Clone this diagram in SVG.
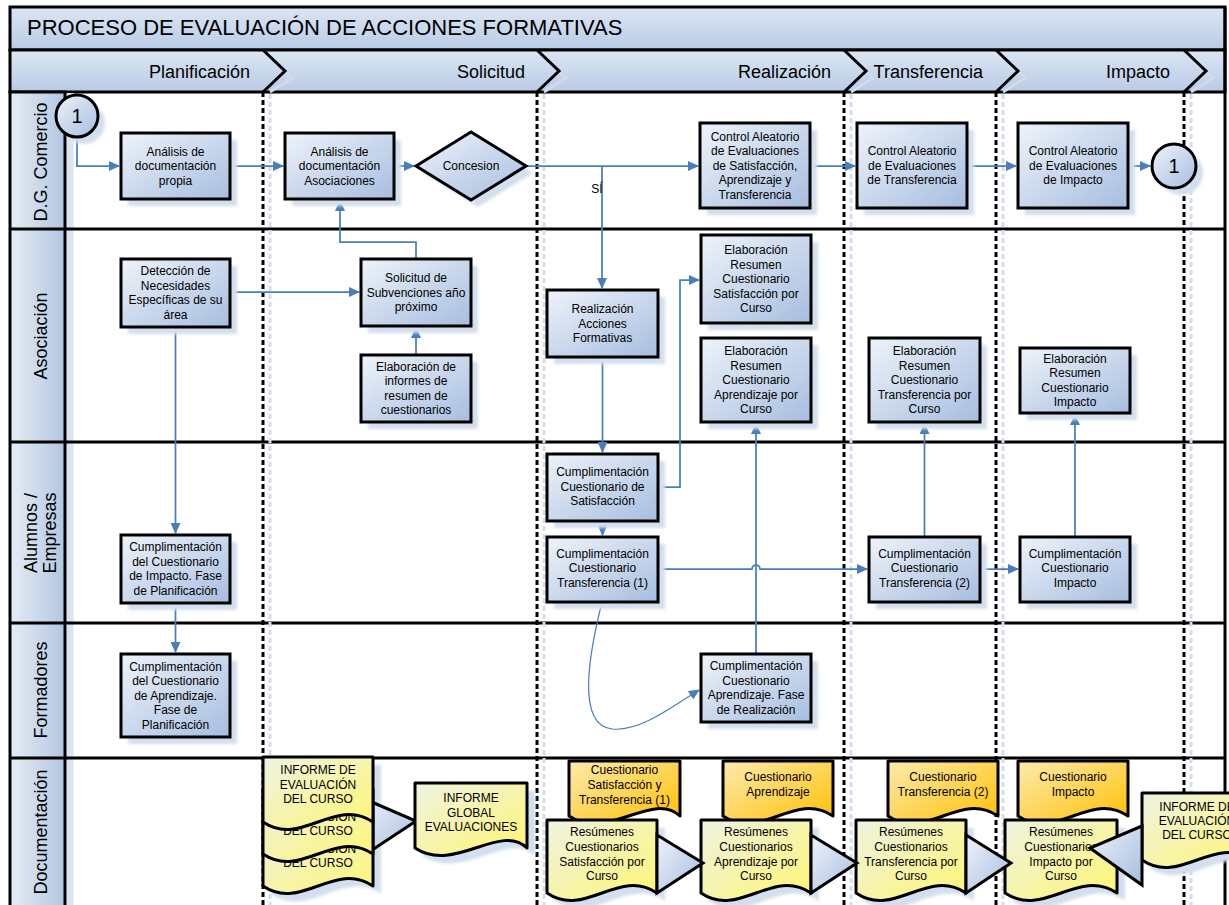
<svg xmlns="http://www.w3.org/2000/svg" width="1229" height="905" viewBox="0 0 1229 905">
<defs>
<linearGradient id="gBox" x1="0" y1="0" x2="1" y2="1"><stop offset="0" stop-color="#eef3fa"/><stop offset="1" stop-color="#a6bddf"/></linearGradient>
<linearGradient id="gHead" x1="0" y1="0" x2="0" y2="1"><stop offset="0" stop-color="#dce6f3"/><stop offset="1" stop-color="#b8cbe5"/></linearGradient>
<linearGradient id="gCol" x1="0" y1="0" x2="1" y2="0"><stop offset="0" stop-color="#e6edf6"/><stop offset="1" stop-color="#b2c6e1"/></linearGradient>
<linearGradient id="gYel" x1="0" y1="0" x2="1" y2="1"><stop offset="0" stop-color="#eef3e2"/><stop offset="1" stop-color="#fff573"/></linearGradient>
<linearGradient id="gOra" x1="0" y1="0" x2="1" y2="1"><stop offset="0" stop-color="#fdeab0"/><stop offset="1" stop-color="#ffc000"/></linearGradient>
<filter id="soft" x="-10%" y="-10%" width="120%" height="120%"><feGaussianBlur stdDeviation="1.5"/></filter>
<marker id="arr" markerWidth="11" markerHeight="10" refX="10" refY="5" orient="auto" markerUnits="userSpaceOnUse"><path d="M0,0 L11,5 L0,10 z" fill="#4a7ebb"/></marker>
<style>
.box{fill:url(#gBox);stroke:#000;stroke-width:3}
.sh{fill:#d3dfee;filter:url(#soft)}
.t{font-family:"Liberation Sans",Arial,sans-serif;font-size:12px;fill:#000;text-anchor:middle}
.lane{font-family:"Liberation Sans",Arial,sans-serif;font-size:18px;fill:#000;text-anchor:middle}
.ph{font-family:"Liberation Sans",Arial,sans-serif;font-size:18px;fill:#000;text-anchor:end}
.conn{fill:none;stroke:#4a7ebb;stroke-width:1.75}
.docY{fill:url(#gYel);stroke:#000;stroke-width:3;stroke-linejoin:round}
.docO{fill:url(#gOra);stroke:#000;stroke-width:3;stroke-linejoin:round}
.tri{fill:url(#gBox);stroke:#000;stroke-width:3;stroke-linejoin:miter}
.sep{stroke:#000;stroke-width:3;stroke-dasharray:5 3;fill:none}
.sepS{stroke:#d3deed;stroke-width:3;stroke-dasharray:5 3;fill:none}
.chev{fill:none;stroke:#000;stroke-width:3}
.chevS{fill:none;stroke:#cfdbec;stroke-width:3}
.ln{stroke:#000;stroke-width:3}
</style>
</defs>
<rect x="0" y="0" width="1229" height="905" fill="#fff"/>

<g id="frame">
<rect x="10" y="7" width="1215" height="43" fill="url(#gHead)" stroke="#000" stroke-width="3"/>
<text x="27" y="35" font-family="Liberation Sans, Arial, sans-serif" font-size="22" fill="#000">PROCESO DE EVALUACIÓN DE ACCIONES FORMATIVAS</text>
<rect x="10" y="50" width="1215" height="42" fill="url(#gHead)" stroke="#000" stroke-width="3"/>
<polyline class="chevS" points="270,57 292,78 270,92"/>
<polyline class="chevS" points="544,57 566,78 544,92"/>
<polyline class="chevS" points="851,57 873,78 851,92"/>
<polyline class="chevS" points="1003,57 1025,78 1003,92"/>
<polyline class="chevS" points="1191,57 1213,78 1191,92"/>
<polyline class="chev" points="263,50 285,71 263,92"/>
<polyline class="chev" points="537,50 559,71 537,92"/>
<polyline class="chev" points="844,50 866,71 844,92"/>
<polyline class="chev" points="996,50 1018,71 996,92"/>
<polyline class="chev" points="1184,50 1206,71 1184,92"/>
<text class="ph" x="250" y="78">Planificación</text>
<text class="ph" x="525" y="78">Solicitud</text>
<text class="ph" x="831" y="78">Realización</text>
<text class="ph" x="983" y="78">Transferencia</text>
<text class="ph" x="1170" y="78">Impacto</text>
<rect x="66.5" y="93" width="7" height="812" fill="#dbe5f1"/>
<rect x="10" y="92" width="55" height="820" fill="url(#gCol)" stroke="#000" stroke-width="3"/>
<line class="ln" x1="10" y1="229" x2="1225" y2="229"/>
<line class="ln" x1="10" y1="442" x2="1225" y2="442"/>
<line class="ln" x1="10" y1="623" x2="1225" y2="623"/>
<line class="ln" x1="10" y1="758" x2="1225" y2="758"/>
<line class="ln" x1="1225" y1="7" x2="1225" y2="905"/>
<text class="lane" transform="translate(47,162) rotate(-90)">D.G. Comercio</text>
<text class="lane" transform="translate(47,336) rotate(-90)">Asociación</text>
<text class="lane" transform="translate(37,533) rotate(-90)"><tspan x="0" y="0">Alumnos /</tspan><tspan x="0" y="18.5">Empresas</tspan></text>
<text class="lane" transform="translate(47,690) rotate(-90)">Formadores</text>
<text class="lane" transform="translate(47,832) rotate(-90)">Documentación</text>
<line class="sepS" x1="270" y1="94" x2="270" y2="905"/>
<line class="sepS" x1="544" y1="94" x2="544" y2="905"/>
<line class="sepS" x1="851" y1="94" x2="851" y2="905"/>
<line class="sepS" x1="1003" y1="94" x2="1003" y2="905"/>
<line class="sepS" x1="1191" y1="94" x2="1191" y2="905"/>
<line class="sep" x1="263" y1="92" x2="263" y2="905"/>
<line class="sep" x1="537" y1="92" x2="537" y2="905"/>
<line class="sep" x1="844" y1="92" x2="844" y2="905"/>
<line class="sep" x1="996" y1="92" x2="996" y2="905"/>
<line class="sep" x1="1184" y1="92" x2="1184" y2="905"/>
</g>

<g id="connectors">
<path class="conn" d="M77,138 V166 H119" marker-end="url(#arr)"/>
<path class="conn" d="M230,166 H283" marker-end="url(#arr)"/>
<path class="conn" d="M394,166 H414" marker-end="url(#arr)"/>
<path class="conn" d="M526,166 H698" marker-end="url(#arr)"/>
<path class="conn" d="M602,166 V288" marker-end="url(#arr)"/>
<path class="conn" d="M810,166 H855" marker-end="url(#arr)"/>
<path class="conn" d="M967,166 H1016" marker-end="url(#arr)"/>
<path class="conn" d="M1128,166 H1150" marker-end="url(#arr)"/>
<path class="conn" d="M230,292 H359" marker-end="url(#arr)"/>
<path class="conn" d="M416,355 V328" marker-end="url(#arr)"/>
<path class="conn" d="M416,259 V242 H340 V201" marker-end="url(#arr)"/>
<path class="conn" d="M175.5,327 V533" marker-end="url(#arr)"/>
<path class="conn" d="M175.5,603 V652" marker-end="url(#arr)"/>
<path class="conn" d="M602.5,357 V452" marker-end="url(#arr)"/>
<path class="conn" d="M658,487 H680 V280 H699" marker-end="url(#arr)"/>
<path class="conn" d="M602.5,521 V535" marker-end="url(#arr)"/>
<path class="conn" d="M658,569 H752 A4,4 0 0 1 760,569 H867" marker-end="url(#arr)"/>
<path class="conn" d="M756,654 V424" marker-end="url(#arr)"/>
<path class="conn" style="stroke-width:1.2" d="M602,602 C590,650 575,725 612,729 C640,732 675,705 699,690" marker-end="url(#arr)"/>
<path class="conn" d="M924.5,537 V424" marker-end="url(#arr)"/>
<path class="conn" d="M980,569 H1018" marker-end="url(#arr)"/>
<path class="conn" d="M1075,537 V415" marker-end="url(#arr)"/>
<text x="597" y="193" font-family="Liberation Sans, Arial, sans-serif" font-size="12" text-anchor="middle" fill="#000">SÍ</text>
</g>

<g id="n_start">
<circle class="sh" cx="84" cy="123" r="21"/>
<circle class="box" cx="77" cy="116" r="21"/>
<text class="t" x="77" y="123" style="font-size:20px">1</text>
</g>
<g id="n_analisis_propia">
<rect class="sh" x="128" y="140" width="109" height="66"/>
<rect class="box" x="121" y="133" width="109" height="66"/>
<text class="t"><tspan x="175.5" y="155.5">Análisis de</tspan><tspan x="175.5" y="170">documentación</tspan><tspan x="175.5" y="184.5">propia</tspan></text>
</g>
<g id="n_analisis_asoc">
<rect class="sh" x="292" y="140" width="109" height="66"/>
<rect class="box" x="285" y="133" width="109" height="66"/>
<text class="t"><tspan x="339.5" y="155.5">Análisis de</tspan><tspan x="339.5" y="170">documentación</tspan><tspan x="339.5" y="184.5">Asociaciones</tspan></text>
</g>
<g id="n_concesion">
<polygon class="sh" points="423,173 478,139 533,173 478,207"/>
<polygon class="box" points="416,166 471,132 526,166 471,200"/>
<text class="t" x="471" y="170">Concesion</text>
</g>
<g id="n_control_sat">
<rect class="sh" x="707" y="130" width="110" height="85"/>
<rect class="box" x="700" y="123" width="110" height="85"/>
<text class="t"><tspan x="755" y="140.5">Control Aleatorio</tspan><tspan x="755" y="155">de Evaluaciones</tspan><tspan x="755" y="169.5">de Satisfacción,</tspan><tspan x="755" y="184">Aprendizaje y</tspan><tspan x="755" y="198.5">Transferencia</tspan></text>
</g>
<g id="n_control_transf">
<rect class="sh" x="864" y="130" width="110" height="85"/>
<rect class="box" x="857" y="123" width="110" height="85"/>
<text class="t"><tspan x="912" y="155">Control Aleatorio</tspan><tspan x="912" y="169.5">de Evaluaciones</tspan><tspan x="912" y="184">de Transferencia</tspan></text>
</g>
<g id="n_control_imp">
<rect class="sh" x="1025" y="130" width="110" height="85"/>
<rect class="box" x="1018" y="123" width="110" height="85"/>
<text class="t"><tspan x="1073" y="155">Control Aleatorio</tspan><tspan x="1073" y="169.5">de Evaluaciones</tspan><tspan x="1073" y="184">de Impacto</tspan></text>
</g>
<g id="n_end">
<circle class="sh" cx="1181" cy="173" r="22"/>
<circle class="box" cx="1174" cy="166" r="22"/>
<text class="t" x="1174" y="173" style="font-size:20px">1</text>
</g>

<g id="n_deteccion">
<rect class="sh" x="128" y="266" width="109" height="68"/>
<rect class="box" x="121" y="259" width="109" height="68"/>
<text class="t"><tspan x="175.5" y="275">Detección de</tspan><tspan x="175.5" y="289.5">Necesidades</tspan><tspan x="175.5" y="304">Específicas de su</tspan><tspan x="175.5" y="318.5">área</tspan></text>
</g>
<g id="n_solicitud">
<rect class="sh" x="368" y="266" width="110" height="67"/>
<rect class="box" x="361" y="259" width="110" height="67"/>
<text class="t"><tspan x="416" y="282">Solicitud de</tspan><tspan x="416" y="296.5">Subvenciones año</tspan><tspan x="416" y="311">próximo</tspan></text>
</g>
<g id="n_elab_informes">
<rect class="sh" x="368" y="362" width="110" height="67"/>
<rect class="box" x="361" y="355" width="110" height="67"/>
<text class="t"><tspan x="416" y="370.5">Elaboración de</tspan><tspan x="416" y="385">informes de</tspan><tspan x="416" y="399.5">resumen de</tspan><tspan x="416" y="414">cuestionarios</tspan></text>
</g>
<g id="n_realizacion">
<rect class="sh" x="554" y="297" width="111" height="67"/>
<rect class="box" x="547" y="290" width="111" height="67"/>
<text class="t"><tspan x="602.5" y="313">Realización</tspan><tspan x="602.5" y="327.5">Acciones</tspan><tspan x="602.5" y="342">Formativas</tspan></text>
</g>
<g id="n_elab_sat">
<rect class="sh" x="708" y="242" width="110" height="88"/>
<rect class="box" x="701" y="235" width="110" height="88"/>
<text class="t"><tspan x="756" y="254">Elaboración</tspan><tspan x="756" y="268.5">Resumen</tspan><tspan x="756" y="283">Cuestionario</tspan><tspan x="756" y="297.5">Satisfacción por</tspan><tspan x="756" y="312">Curso</tspan></text>
</g>
<g id="n_elab_apr">
<rect class="sh" x="708" y="345" width="110" height="84"/>
<rect class="box" x="701" y="338" width="110" height="84"/>
<text class="t"><tspan x="756" y="355">Elaboración</tspan><tspan x="756" y="369.5">Resumen</tspan><tspan x="756" y="384">Cuestionario</tspan><tspan x="756" y="398.5">Aprendizaje por</tspan><tspan x="756" y="413">Curso</tspan></text>
</g>
<g id="n_elab_transf">
<rect class="sh" x="876" y="345" width="111" height="84"/>
<rect class="box" x="869" y="338" width="111" height="84"/>
<text class="t"><tspan x="924.5" y="355">Elaboración</tspan><tspan x="924.5" y="369.5">Resumen</tspan><tspan x="924.5" y="384">Cuestionario</tspan><tspan x="924.5" y="398.5">Transferencia por</tspan><tspan x="924.5" y="413">Curso</tspan></text>
</g>
<g id="n_elab_imp">
<rect class="sh" x="1027" y="355" width="110" height="65"/>
<rect class="box" x="1020" y="348" width="110" height="65"/>
<text class="t"><tspan x="1075" y="362.5">Elaboración</tspan><tspan x="1075" y="377">Resumen</tspan><tspan x="1075" y="391.5">Cuestionario</tspan><tspan x="1075" y="406">Impacto</tspan></text>
</g>

<g id="n_cumpl_imp_plan">
<rect class="sh" x="128" y="542" width="109" height="68"/>
<rect class="box" x="121" y="535" width="109" height="68"/>
<text class="t"><tspan x="175.5" y="551">Cumplimentación</tspan><tspan x="175.5" y="565.5">del Cuestionario</tspan><tspan x="175.5" y="580">de Impacto. Fase</tspan><tspan x="175.5" y="594.5">de Planificación</tspan></text>
</g>
<g id="n_cumpl_sat">
<rect class="sh" x="554" y="461" width="111" height="67"/>
<rect class="box" x="547" y="454" width="111" height="67"/>
<text class="t"><tspan x="602.5" y="476">Cumplimentación</tspan><tspan x="602.5" y="490.5">Cuestionario de</tspan><tspan x="602.5" y="505">Satisfacción</tspan></text>
</g>
<g id="n_cumpl_transf1">
<rect class="sh" x="554" y="544" width="111" height="65"/>
<rect class="box" x="547" y="537" width="111" height="65"/>
<text class="t"><tspan x="602.5" y="557.5">Cumplimentación</tspan><tspan x="602.5" y="572">Cuestionario</tspan><tspan x="602.5" y="586.5">Transferencia (1)</tspan></text>
</g>
<g id="n_cumpl_transf2">
<rect class="sh" x="876" y="544" width="111" height="65"/>
<rect class="box" x="869" y="537" width="111" height="65"/>
<text class="t"><tspan x="924.5" y="557.5">Cumplimentación</tspan><tspan x="924.5" y="572">Cuestionario</tspan><tspan x="924.5" y="586.5">Transferencia (2)</tspan></text>
</g>
<g id="n_cumpl_imp">
<rect class="sh" x="1027" y="544" width="110" height="65"/>
<rect class="box" x="1020" y="537" width="110" height="65"/>
<text class="t"><tspan x="1075" y="557.5">Cumplimentación</tspan><tspan x="1075" y="572">Cuestionario</tspan><tspan x="1075" y="586.5">Impacto</tspan></text>
</g>
<g id="n_cumpl_apr_plan">
<rect class="sh" x="128" y="661" width="109" height="83"/>
<rect class="box" x="121" y="654" width="109" height="83"/>
<text class="t"><tspan x="175.5" y="670.5">Cumplimentación</tspan><tspan x="175.5" y="685">del Cuestionario</tspan><tspan x="175.5" y="699.5">de Aprendizaje.</tspan><tspan x="175.5" y="714">Fase de</tspan><tspan x="175.5" y="728.5">Planificación</tspan></text>
</g>
<g id="n_cumpl_apr_real">
<rect class="sh" x="708" y="661" width="110" height="68"/>
<rect class="box" x="701" y="654" width="110" height="68"/>
<text class="t"><tspan x="756" y="670">Cumplimentación</tspan><tspan x="756" y="684.5">Cuestionario</tspan><tspan x="756" y="699">Aprendizaje. Fase</tspan><tspan x="756" y="713.5">de Realización</tspan></text>
</g>

<g id="d_informe_stack">
<path class="sh" d="M271,765 H381 V894 C342.5,868 309.5,920 271,894 Z"/>
<path class="tri" d="M360,797 L416,821 L360,858 Z"/>
<path class="docY" d="M263,821 H373 V886 C334.5,860 301.5,912 263,886 Z"/>
<text class="t"><tspan x="318" y="838">INFORME DE</tspan><tspan x="318" y="853">EVALUACIÓN</tspan><tspan x="318" y="867">DEL CURSO</tspan></text>
<path class="docY" d="M263,789 H373 V854 C334.5,828 301.5,880 263,854 Z"/>
<text class="t"><tspan x="318" y="806">INFORME DE</tspan><tspan x="318" y="821">EVALUACIÓN</tspan><tspan x="318" y="835">DEL CURSO</tspan></text>
<path class="docY" d="M263,757 H373 V822 C334.5,796 301.5,848 263,822 Z"/>
<text class="t"><tspan x="318" y="774">INFORME DE</tspan><tspan x="318" y="789">EVALUACIÓN</tspan><tspan x="318" y="803">DEL CURSO</tspan></text>
</g>
<g id="d_informe_global">
<path class="sh" d="M423,791 H535 V856 C507.8,830 462.2,882 423,856 Z"/>
<path class="docY" d="M415,783 H527 V848 C499.8,822 454.2,874 415,848 Z"/>
<text class="t"><tspan x="471" y="802">INFORME</tspan><tspan x="471" y="817">GLOBAL</tspan><tspan x="471" y="831">EVALUACIONES</tspan></text>
</g>
<g id="d_cuest_sat">
<path class="docO" d="M569,761 H680 V816 C652.2,790 607.9,842 569,816 Z"/>
<text class="t"><tspan x="624.5" y="774">Cuestionario</tspan><tspan x="624.5" y="789">Satisfacción y</tspan><tspan x="624.5" y="804">Transferencia (1)</tspan></text>
</g>
<g id="d_cuest_apr">
<path class="docO" d="M723,761 H833 V816 C794.5,790 761.5,842 723,816 Z"/>
<text class="t"><tspan x="778" y="781">Cuestionario</tspan><tspan x="778" y="796">Aprendizaje</tspan></text>
</g>
<g id="d_cuest_transf">
<path class="docO" d="M888,761 H998 V816 C959.5,790 926.5,842 888,816 Z"/>
<text class="t"><tspan x="943" y="781">Cuestionario</tspan><tspan x="943" y="796">Transferencia (2)</tspan></text>
</g>
<g id="d_cuest_imp">
<path class="docO" d="M1018,761 H1128 V816 C1089.5,790 1056.5,842 1018,816 Z"/>
<text class="t"><tspan x="1073" y="781">Cuestionario</tspan><tspan x="1073" y="796">Impacto</tspan></text>
</g>
<g id="d_res_sat">
<path class="sh" d="M555,828 H665 V901 C626.5,875 593.5,927 555,901 Z"/>
<path class="docY" d="M547,820 H657 V893 C618.5,867 585.5,919 547,893 Z"/>
<text class="t"><tspan x="602" y="836">Resúmenes</tspan><tspan x="602" y="851">Cuestionarios</tspan><tspan x="602" y="866">Satisfacción por</tspan><tspan x="602" y="880">Curso</tspan></text>
</g>
<g id="d_res_apr">
<path class="sh" d="M709,828 H819 V901 C780.5,875 747.5,927 709,901 Z"/>
<path class="docY" d="M701,820 H811 V893 C772.5,867 739.5,919 701,893 Z"/>
<text class="t"><tspan x="756" y="836">Resúmenes</tspan><tspan x="756" y="851">Cuestionarios</tspan><tspan x="756" y="866">Aprendizaje por</tspan><tspan x="756" y="880">Curso</tspan></text>
</g>
<g id="d_res_transf">
<path class="sh" d="M864,828 H974 V901 C935.5,875 902.5,927 864,901 Z"/>
<path class="docY" d="M856,820 H966 V893 C927.5,867 894.5,919 856,893 Z"/>
<text class="t"><tspan x="911" y="836">Resúmenes</tspan><tspan x="911" y="851">Cuestionarios</tspan><tspan x="911" y="866">Transferencia por</tspan><tspan x="911" y="880">Curso</tspan></text>
</g>
<g id="d_res_imp">
<path class="sh" d="M1013,828 H1125 V901 C1085.8,875 1052.2,927 1013,901 Z"/>
<path class="docY" d="M1005,820 H1117 V893 C1077.8,867 1044.2,919 1005,893 Z"/>
<text class="t"><tspan x="1061" y="836">Resúmenes</tspan><tspan x="1061" y="851">Cuestionarios</tspan><tspan x="1061" y="866">Impacto por</tspan><tspan x="1061" y="880">Curso</tspan></text>
</g>
<g id="d_informe_curso">
<path class="sh" d="M1150,801 H1260 V868 C1221.5,842 1188.5,894 1150,868 Z"/>
<path class="docY" d="M1142,793 H1252 V860 C1213.5,834 1180.5,886 1142,860 Z"/>
<text class="t"><tspan x="1197" y="811">INFORME DE</tspan><tspan x="1197" y="825">EVALUACIÓN</tspan><tspan x="1197" y="839">DEL CURSO</tspan></text>
</g>
<g id="doc_arrows">
<path class="tri" d="M657,835 L703,863 L657,893 Z"/>
<path class="tri" d="M811,835 L857,863 L811,893 Z"/>
<path class="tri" d="M966,835 L1011,863 L966,893 Z"/>
<path class="tri" d="M1142,826 L1090,848 L1142,885 Z"/>
</g>
</svg>
